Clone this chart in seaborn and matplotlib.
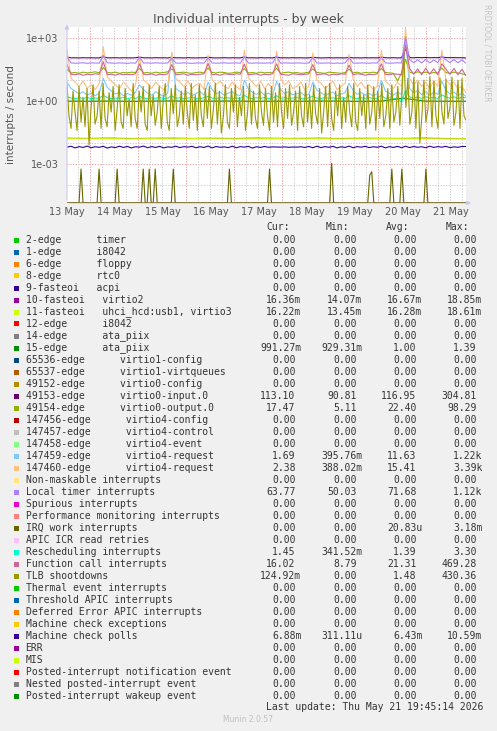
import numpy as np
import pandas as pd
import matplotlib
matplotlib.use('Agg')
import matplotlib.pyplot as plt
import seaborn as sns
from matplotlib.patches import Rectangle

W, H = 497, 731
XMAX = 399 / 48.0          # plot width in days (48 px per day)
YMIN, YMAX = 1.4e-5, 3.39e3

# ---- series (legend order = drawing order) ----
names = [
    "2-edge      timer", "1-edge      i8042", "6-edge      floppy", "8-edge      rtc0",
    "9-fasteoi   acpi", "10-fasteoi   virtio2", "11-fasteoi   uhci_hcd:usb1, virtio3",
    "12-edge      i8042", "14-edge      ata_piix", "15-edge      ata_piix",
    "65536-edge      virtio1-config", "65537-edge      virtio1-virtqueues",
    "49152-edge      virtio0-config", "49153-edge      virtio0-input.0",
    "49154-edge      virtio0-output.0", "147456-edge      virtio4-config",
    "147457-edge      virtio4-control", "147458-edge      virtio4-event",
    "147459-edge      virtio4-request", "147460-edge      virtio4-request",
    "Non-maskable interrupts", "Local timer interrupts", "Spurious interrupts",
    "Performance monitoring interrupts", "IRQ work interrupts", "APIC ICR read retries",
    "Rescheduling interrupts", "Function call interrupts", "TLB shootdowns",
    "Thermal event interrupts", "Threshold APIC interrupts", "Deferred Error APIC interrupts",
    "Machine check exceptions", "Machine check polls", "ERR", "MIS",
    "Posted-interrupt notification event", "Nested posted-interrupt event",
    "Posted-interrupt wakeup event",
]
colors = [
    "#00CC00", "#0066B3", "#FF8000", "#FFCC00", "#330099", "#990099", "#CCFF00",
    "#FF0000", "#808080", "#008F00", "#00487D", "#B35A00", "#B38F00", "#6B006B",
    "#8FB300", "#B30000", "#BEBEBE", "#80FF80", "#80C9FF", "#FFC080", "#FFE680",
    "#AA80FF", "#EE00CC", "#FF8080", "#666600", "#FFBFFF", "#00FFCC", "#CC6699",
    "#999900", "#00CC00", "#0066B3", "#FF8000", "#FFCC00", "#330099", "#990099",
    "#CCFF00", "#FF0000", "#808080", "#008F00",
]
cur = ["0.00"] * 39
mins = ["0.00"] * 39
avgs = ["0.00"] * 39
maxs = ["0.00"] * 39
stats = {
    5: ("16.36m", "14.07m", "16.67m", "18.85m"),
    6: ("16.22m", "13.45m", "16.28m", "18.61m"),
    9: ("991.27m", "929.31m", "1.00", "1.39"),
    13: ("113.10", "90.81", "116.95", "304.81"),
    14: ("17.47", "5.11", "22.40", "98.29"),
    18: ("1.69", "395.76m", "11.63", "1.22k"),
    19: ("2.38", "388.02m", "15.41", "3.39k"),
    21: ("63.77", "50.03", "71.68", "1.12k"),
    24: ("0.00", "0.00", "20.83u", "3.18m"),
    26: ("1.45", "341.52m", "1.39", "3.30"),
    27: ("16.02", "8.79", "21.31", "469.28"),
    28: ("124.92m", "0.00", "1.48", "430.36"),
    33: ("6.88m", "311.11u", "6.43m", "10.59m"),
}
for i, (c, mn, av, mx) in stats.items():
    cur[i], mins[i], avgs[i], maxs[i] = c, mn, av, mx

# ---- values (interrupts / second) ----
local_timer = [
    128, 66, 64, 65, 67, 63, 66, 65, 64, 150,
    67, 65, 64, 66, 65, 63, 66, 64, 120, 65,
    66, 64, 67, 65, 64, 66, 110, 65, 64, 66,
    65, 63, 65, 66, 64, 115, 66, 64, 65, 67,
    64, 65, 66, 64, 130, 65, 64, 66, 65, 64,
    66, 65, 140, 64, 66, 65, 64, 66, 65, 64,
    65, 120, 66, 64, 65, 66, 63, 65, 64, 66,
    115, 65, 64, 66, 65, 64, 66, 65, 125, 66,
    64, 65, 67, 66, 1120, 95, 68, 92, 66, 96,
    67, 90, 68, 140, 93, 68, 95, 67, 92, 64,
]
virtio0_input = [
    125, 115, 116, 114, 117, 115, 116, 114, 115, 130,
    116, 115, 117, 114, 116, 115, 114, 116, 125, 115,
    116, 114, 117, 115, 116, 114, 122, 115, 116, 114,
    117, 115, 114, 116, 115, 124, 116, 114, 115, 117,
    114, 116, 115, 114, 128, 115, 116, 114, 117, 115,
    116, 114, 126, 115, 116, 114, 117, 115, 116, 114,
    115, 124, 116, 114, 115, 117, 114, 116, 115, 114,
    122, 115, 116, 114, 117, 115, 116, 114, 126, 116,
    115, 117, 114, 116, 305, 118, 116, 119, 117, 120,
    116, 118, 117, 125, 119, 117, 118, 116, 117, 113,
]
virtio0_output = [
    32, 22, 23, 21, 24, 22, 23, 25, 22, 40,
    23, 22, 24, 21, 23, 22, 24, 23, 36, 22,
    23, 21, 24, 22, 23, 25, 34, 22, 23, 24,
    22, 21, 23, 24, 22, 38, 23, 22, 24, 23,
    21, 22, 24, 23, 35, 22, 23, 21, 24, 22,
    23, 22, 37, 21, 23, 24, 22, 23, 21, 22,
    24, 34, 23, 22, 21, 24, 23, 22, 21, 23,
    33, 22, 24, 21, 23, 22, 24, 22, 36, 23,
    22, 21, 9, 22, 98, 24, 21, 25, 22, 24,
    21, 23, 22, 38, 23, 21, 24, 22, 20, 17.5,
]
function_call = [
    55, 19, 18, 20, 17, 19, 18, 20, 19, 75,
    18, 19, 17, 20, 18, 19, 18, 20, 60, 19,
    18, 20, 17, 19, 18, 20, 55, 18, 19, 20,
    17, 19, 18, 19, 20, 62, 18, 19, 17, 20,
    19, 18, 20, 19, 58, 18, 19, 20, 17, 19,
    18, 20, 60, 19, 18, 17, 20, 19, 18, 19,
    20, 55, 18, 19, 20, 17, 19, 18, 20, 19,
    52, 18, 20, 19, 17, 19, 18, 20, 60, 19,
    18, 20, 19, 18, 469, 36, 19, 34, 18, 37,
    19, 35, 18, 60, 34, 19, 36, 18, 33, 16,
]
virtio4_req_a = [
    8, 4, 3, 2.2, 2.8, 1.9, 2.5, 1.8, 2.4, 12,
    4.5, 3, 2.2, 2.6, 1.8, 2.3, 1.9, 2.7, 6, 3.5,
    2.4, 1.9, 2.8, 2.1, 1.7, 2.5, 200, 4, 2.8, 2.1,
    2.6, 1.8, 2.3, 2.9, 1.9, 8, 3.6, 2.2, 2.7, 1.9,
    2.4, 2.8, 2.0, 1.8, 10, 3.8, 2.6, 2.1, 2.9, 1.9,
    2.4, 1.8, 9, 3.5, 2.3, 2.8, 2.0, 2.2, 2.6, 1.8,
    2.1, 8, 3.4, 2.5, 1.9, 2.3, 2.7, 1.8, 2.2, 2.5,
    7, 3.2, 2.1, 2.6, 1.9, 2.3, 1.8, 2.2, 10, 3,
    2.4, 1.9, 2.7, 2.1, 1220, 4, 2.5, 3.2, 2.0, 2.8,
    1.9, 2.6, 2.1, 9, 3.3, 2.2, 2.7, 1.9, 2.3, 1.69,
]
virtio4_req_b = [
    270, 12, 8, 5, 9, 4, 6, 3.5, 7, 385,
    14, 9, 6, 4, 8, 5, 3, 6, 130, 10,
    7, 4, 8, 5, 3.5, 6, 210, 12, 8, 5,
    9, 4, 6, 7, 3.5, 155, 11, 6, 9, 5,
    4, 8, 5, 3.5, 270, 13, 8, 5, 9, 4,
    7, 3.5, 240, 12, 6, 9, 4, 5, 8, 3.5,
    5, 200, 10, 7, 4, 6, 9, 3.5, 5, 7,
    167, 11, 5, 8, 4, 6, 3.5, 5, 270, 9,
    6, 4, 8, 5, 3390, 12, 6, 10, 5, 8,
    4, 9, 5, 270, 11, 6, 8, 4, 5, 2.4,
]
rescheduling = [
    1.6, 1.4, 1.3, 1.45, 1.35, 1.5, 1.3, 1.4, 1.35, 1.9,
    1.45, 1.3, 1.4, 1.35, 1.5, 1.3, 1.45, 1.35, 1.7, 1.4,
    1.3, 1.45, 1.35, 1.5, 1.3, 1.4, 1.8, 1.35, 1.45, 1.3,
    1.4, 1.5, 1.35, 1.3, 1.45, 1.7, 1.4, 1.3, 1.5, 1.35,
    1.45, 1.3, 1.4, 1.35, 1.9, 1.4, 1.3, 1.45, 1.35, 1.5,
    1.3, 1.4, 1.8, 1.35, 1.45, 1.3, 1.4, 1.5, 1.35, 1.3,
    1.45, 1.7, 1.4, 1.3, 1.5, 1.35, 1.45, 1.3, 1.4, 1.35,
    1.8, 1.4, 1.3, 1.45, 1.35, 1.5, 1.3, 1.4, 1.9, 1.35,
    1.45, 1.3, 1.4, 0.9, 3.3, 1.6, 1.4, 1.55, 1.35, 1.6,
    1.4, 1.5, 1.35, 2.0, 1.55, 1.4, 1.6, 1.35, 1.5, 1.45,
]
mc_polls = [
    0.0064, 0.0071, 0.0059, 0.0068, 0.0062, 0.0072, 0.0060, 0.0067, 0.0063, 0.0070,
    0.0058, 0.0066, 0.0061, 0.0071, 0.0062, 0.0069, 0.0059, 0.0067, 0.0064, 0.0072,
    0.0060, 0.0068, 0.0062, 0.0070, 0.0059, 0.0066, 0.0063, 0.0071, 0.0061, 0.0068,
    0.0064, 0.0070, 0.0060, 0.0067, 0.0062, 0.0072, 0.0059, 0.0069, 0.0063, 0.0066,
    0.0061, 0.0071, 0.0060, 0.0068, 0.0064, 0.0070, 0.0058, 0.0067, 0.0062, 0.0069,
    0.0063, 0.0066, 0.0065, 0.0064, 0.0066, 0.0063, 0.0065, 0.0064, 0.0067, 0.0062,
    0.0069, 0.0060, 0.0071, 0.0061, 0.0068, 0.0063, 0.0070, 0.0059, 0.0067, 0.0062,
    0.0072, 0.0060, 0.0068, 0.0064, 0.0070, 0.0061, 0.0067, 0.0063, 0.0071, 0.0059,
    0.0068, 0.0062, 0.0070, 0.0060, 0.0071, 0.0061, 0.0069, 0.0063, 0.0067, 0.0060,
    0.0071, 0.0062, 0.0068, 0.0064, 0.0070, 0.0061, 0.0066, 0.0063, 0.0069, 0.00688,
]
tlb = [
    6, 0.2, 0.05, 3, 0.3, 0.04, 5, 0.1, 1.5, 0.06,
    4, 0.008, 0.5, 6, 0.08, 0.2, 3, 0.05, 7, 0.15,
    0.06, 2.5, 0.3, 5, 0.04, 0.4, 6, 0.1, 0.05, 4,
    0.2, 1.2, 0.06, 7, 0.15, 0.05, 3, 0.3, 5, 0.08,
    0.04, 6, 0.2, 2, 0.07, 0.3, 5, 0.05, 1, 7,
    0.1, 0.04, 4, 0.25, 6, 0.06, 0.2, 3, 0.08, 5,
    0.3, 0.05, 7, 0.12, 2, 0.04, 6, 0.2, 0.06, 4,
    0.15, 5, 0.05, 0.4, 7, 0.08, 3, 0.03, 0.2, 6,
    0.1, 0.05, 4, 0.3, 6, 0.06, 1.5, 0.2, 5, 0.04,
    0.25, 7, 0.08, 3, 0.15, 0.05, 6, 0.3, 0.07, 4,
    0.2, 0.04, 5, 0.1, 2.5, 0.06, 7, 0.3, 0.05, 4,
    0.15, 6, 0.07, 0.3, 3, 0.04, 5, 0.2, 0.06, 7,
    0.1, 2, 0.05, 6, 0.25, 0.08, 4, 0.03, 0.3, 5,
    0.06, 7, 0.15, 0.04, 3, 0.2, 6, 0.05, 1.5, 0.1,
    5, 0.3, 0.06, 7, 0.1, 0.04, 4, 0.2, 2, 0.05,
    6, 0.08, 0.3, 5, 0.04, 3, 0.15, 7, 0.06, 0.2,
    4, 0.05, 6, 0.1, 0.3, 5, 0.07, 2, 190, 0.5,
    12, 0.08, 0.3, 14, 0.05, 8, 0.01, 0.2, 10, 0.1,
    0.4, 15, 0.06, 9, 0.2, 0.05, 13, 0.3, 0.08, 11,
    0.15, 0.5, 14, 0.07, 0.3, 10, 0.05, 12, 0.2, 0.125,
]
irq_work_idx = [7, 16, 25, 38, 41, 44, 53, 81, 101, 132, 151, 152, 162, 167, 179]
irq_work_val = [5.8e-4, 5.8e-4, 5.8e-4, 5.8e-4, 5.8e-4, 5.8e-4, 5.8e-4, 5.8e-4,
                5.8e-4, 1.1e-3, 3.0e-4, 4.3e-4, 5.8e-4, 5.8e-4, 5.8e-4]
ata_piix15 = [1.0, 0.99, 1.01, 0.98, 1.0, 1.02, 0.99, 1.0, 1.01, 0.98,
              1.0, 0.99, 1.01, 1.0, 0.98, 1.0, 1.39, 1.0, 0.99, 0.99]
virtio2 = [0.0168, 0.0166, 0.0170, 0.0165, 0.0167, 0.0169, 0.0166, 0.0168, 0.0165, 0.0170,
           0.0167, 0.0166, 0.0169, 0.0165, 0.0168, 0.0167, 0.0166, 0.0170, 0.0165, 0.01636]
uhci_virtio3 = [0.0163, 0.0162, 0.0164, 0.0161, 0.0163, 0.0162, 0.0164, 0.0162, 0.0161, 0.0163,
                0.0164, 0.0162, 0.0163, 0.0161, 0.0162, 0.0164, 0.0163, 0.0162, 0.0161, 0.01622]

day_labels = ["13 May", "14 May", "15 May", "16 May", "17 May",
              "18 May", "19 May", "20 May", "21 May"]

irq_work = [0.0] * len(tlb)
for i, v in zip(irq_work_idx, irq_work_val):
    irq_work[i] = v

data = {
    5: virtio2, 6: uhci_virtio3, 9: ata_piix15, 13: virtio0_input, 14: virtio0_output,
    18: virtio4_req_a, 19: virtio4_req_b, 21: local_timer, 24: irq_work,
    26: rescheduling, 27: function_call, 28: tlb, 33: mc_polls,
}

frames = []
for i, name in enumerate(names):
    vals = data.get(i, [0.0, 0.0])
    frames.append(pd.DataFrame({
        "day": np.linspace(0, XMAX, len(vals)),
        "rate": vals,
        "series": name,
    }))
df = pd.concat(frames, ignore_index=True)
# zeros cannot sit on a log axis: rrdtool puts them on the bottom edge
df["plot_rate"] = df["rate"].clip(lower=YMIN)

sns.set_theme(style="white")
plt.rcParams["font.family"] = ["DejaVu Sans"]

fig = plt.figure(figsize=(W / 100, H / 100), dpi=100, facecolor="#F0F0F0")
ax = fig.add_axes([67 / W, 1 - 203 / H, (466 - 67) / W, (203 - 27) / H])
ax.set_facecolor("white")
ax.set_yscale("log")

# grid
dot = (0, (1.4, 1.4))
for e in range(-4, 4):
    if e % 3 == 0:
        ax.axhline(10.0 ** e, color="#EBA8A8", lw=0.7, ls=dot, zorder=0)
    else:
        ax.axhline(10.0 ** e, color="#CFCFCF", lw=0.7, ls=dot, zorder=0)
k = 0
while 0.23 + 0.25 * k < XMAX:
    xv = 0.23 + 0.25 * k
    if k % 4 == 1:
        ax.axvline(xv, color="#EBA8A8", lw=0.7, ls=dot, zorder=0)
    else:
        ax.axvline(xv, color="#CFCFCF", lw=0.7, ls=dot, zorder=0)
    k += 1

sns.lineplot(data=df, x="day", y="plot_rate", hue="series", hue_order=names,
             palette=dict(zip(names, colors)), estimator=None, legend=False,
             linewidth=0.8, ax=ax)

ax.set_xlim(0, XMAX)
ax.set_ylim(YMIN, YMAX)
ax.set_xlabel("")
ax.set_ylabel("")
ax.set_xticks(range(len(day_labels)))
ax.set_xticklabels(day_labels)
ax.set_yticks([1e-3, 1, 1e3])
ax.set_yticklabels(["1e-03", "1e+00", "1e+03"])
ax.minorticks_off()
ax.tick_params(axis="both", length=0, labelsize=7, colors="#555555")
ax.tick_params(axis="y", pad=6)
ax.tick_params(axis="x", pad=3)
for s in ax.spines.values():
    s.set_visible(False)

# axes with arrows, rrdtool style
arrow = dict(arrowstyle="-|>", color="#C8C8F0", lw=0.8, mutation_scale=6)
ax.annotate("", xy=(0, 1.03), xytext=(0, 0), xycoords="axes fraction",
            arrowprops=arrow, annotation_clip=False)
ax.annotate("", xy=(1.02, 0), xytext=(0, 0), xycoords="axes fraction",
            arrowprops=arrow, annotation_clip=False, zorder=1)


def fx(x):
    return x / W


def fy(y):
    return 1 - y / H


fig.text(fx(248.5), fy(19), "Individual interrupts - by week", ha="center", va="center",
         fontsize=9, color="#505050")
fig.text(fx(11), fy(114.5), "interrupts / second", rotation=90, ha="center", va="center",
         fontsize=7.5, color="#555555")
fig.text(fx(487), fy(53), "RRDTOOL / TOBI OETIKER", rotation=270, ha="center", va="center",
         fontsize=5.5, color="#C4C4C4")

# legend
mono = "DejaVu Sans Mono"
tc = "#333333"
fs = 7
for hdr, xr in zip(["Cur:", "Min:", "Avg:", "Max:"], [289.5, 349.5, 409.5, 469.5]):
    fig.text(fx(xr), fy(227.5), hdr, ha="right", va="center", family=mono, fontsize=fs, color=tc)

col_ends = [295.5, 356.5, 416.5, 476.5]
for i, name in enumerate(names):
    y = 240 + 12 * i
    fig.patches.append(Rectangle((fx(14), fy(y + 2.5)), 5 / W, 5 / H,
                                 transform=fig.transFigure, facecolor=colors[i],
                                 edgecolor="none"))
    fig.text(fx(25.5), fy(y), name, ha="left", va="center", family=mono,
             fontsize=fs, color=tc)
    for val, xe in zip([cur[i], mins[i], avgs[i], maxs[i]], col_ends):
        if val[-1].isalpha():
            xe += 5.9
        fig.text(fx(xe), fy(y), val, ha="right", va="center", family=mono,
                 fontsize=fs, color=tc)

fig.text(fx(483), fy(707.5), "Last update: Thu May 21 19:45:14 2026", ha="right",
         va="center", family=mono, fontsize=fs, color=tc)
fig.text(fx(248), fy(720), "Munin 2.0.57", ha="center", va="center",
         fontsize=5.5, color="#C0C0C0")

fig.savefig("out.png", dpi=100, facecolor=fig.get_facecolor())
